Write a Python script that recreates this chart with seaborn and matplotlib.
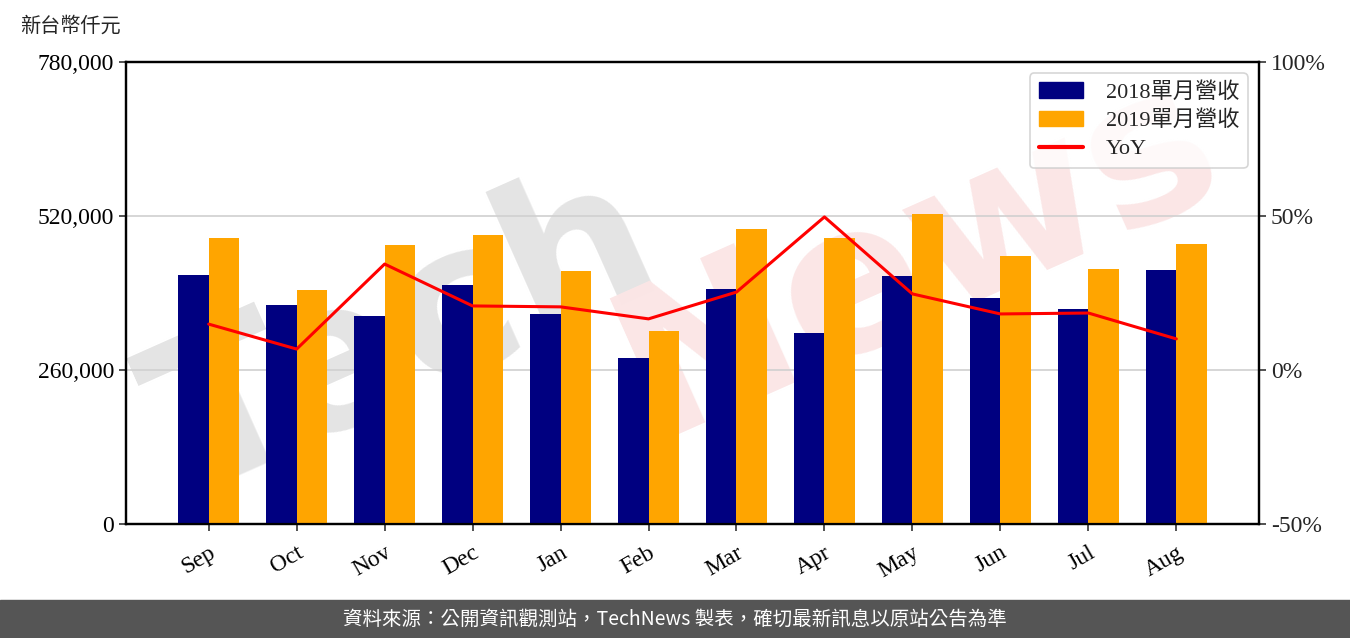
import numpy as np
import pandas as pd
import matplotlib
matplotlib.use("Agg")
import matplotlib.pyplot as plt
import seaborn as sns
from matplotlib.lines import Line2D
from matplotlib.patches import Patch
from matplotlib.ticker import FuncFormatter

months = ["Sep", "Oct", "Nov", "Dec", "Jan", "Feb", "Mar", "Apr", "May", "Jun", "Jul", "Aug"]
rev_2018 = [420400, 369700, 351200, 403500, 354500, 280300, 396800, 322500, 418700, 381600, 363000, 428800]
rev_2019 = [482900, 395100, 471000, 487900, 427100, 325800, 498100, 482900, 523400, 452500, 430500, 472700]
yoy = [14.9, 6.8, 34.4, 20.8, 20.5, 16.6, 25.3, 49.7, 24.7, 18.2, 18.5, 10.1]
series_names = ["2018單月營收", "2019單月營收", "YoY"]
left_ticks = [0, 260000, 520000, 780000]
right_ticks = [-50, 0, 50, 100]

sns.set_theme(style="white")
serif = ["Liberation Serif", "Noto Sans CJK TC", "DejaVu Sans"]
plt.rcParams["font.family"] = serif

df = pd.DataFrame({
    "month": months * 2,
    "value": rev_2018 + rev_2019,
    "series": [series_names[0]] * 12 + [series_names[1]] * 12,
})

fig = plt.figure(figsize=(13.5, 6.38), dpi=100)
ax = fig.add_axes([126 / 1350, 1 - 524 / 638, (1259 - 126) / 1350, (524 - 62) / 638])

# watermark (behind the axes)
fig.text(0.30, 0.47, "Tech", fontsize=150, color="#e4e4e4", rotation=24,
         ha="center", va="center", family=["DejaVu Sans"], fontweight="bold", zorder=-5)
fig.text(0.68, 0.60, "News", fontsize=150, color="#fbe6e6", rotation=24,
         ha="center", va="center", family=["DejaVu Sans"], fontweight="bold", zorder=-5)

sns.barplot(data=df, x="month", y="value", hue="series", palette=["#000080", "#FFA500"],
            width=0.7, ax=ax, legend=False, saturation=1, linewidth=0, zorder=3)
ax.set_xlim(-0.94, 11.94)
ax.set_ylim(0, 780000)
ax.set_yticks(left_ticks)
ax.yaxis.set_major_formatter(FuncFormatter(lambda v, p: f"{int(v):,}"))
ax.set_xlabel("")
ax.set_ylabel("")
ax.grid(axis="y", color="#d0d0d0", linewidth=1.2, zorder=0)
ax.set_axisbelow(True)
ax.patch.set_alpha(0)
for s in ax.spines.values():
    s.set_color("black")
    s.set_linewidth(1.6)
ax.tick_params(axis="both", which="both", length=5, width=1.2, color="#333333",
               labelsize=17, colors="black", left=True, bottom=True)
ax.tick_params(axis="x", pad=8)
for lbl in ax.get_xticklabels():
    lbl.set_rotation(30)
    lbl.set_ha("right")
    lbl.set_rotation_mode("anchor")

ax2 = ax.twinx()
sns.lineplot(x=np.arange(12), y=yoy, ax=ax2, color="red", linewidth=2.2, zorder=5)
ax2.set_ylim(-50, 100)
ax2.set_yticks(right_ticks)
ax2.yaxis.set_major_formatter(FuncFormatter(lambda v, p: f"{int(v)}%"))
ax2.tick_params(axis="y", length=5, width=1.2, color="#333333", labelsize=17, right=True)
ax2.grid(False)
ax2.set_ylabel("")
for s in ax2.spines.values():
    s.set_color("black")
    s.set_linewidth(1.6)

handles = [Patch(color="#000080"), Patch(color="#FFA500"), Line2D([], [], color="red", linewidth=3)]
leg = ax2.legend(handles, series_names, loc="upper right", fontsize=16, frameon=True,
                 fancybox=True, edgecolor="#cccccc", borderaxespad=0.5, handlelength=2.0,
                 handletextpad=1.0, labelspacing=0.35, borderpad=0.4)
leg.get_frame().set_linewidth(1.2)

fig.text(20 / 1350, 1 - 27 / 638, "新台幣仟元", fontsize=14.5, va="center", ha="left",
         family=serif)

# footer
fig.patches.append(plt.Rectangle((0, 0), 1, 38 / 638, transform=fig.transFigure,
                                 color="#555555", zorder=0))
fig.text(0.5, 19 / 638, "資料來源：公開資訊觀測站，TechNews 製表，確切最新訊息以原站公告為準",
         color="white", fontsize=14, ha="center", va="center",
         family=["Noto Sans CJK TC", "DejaVu Sans"])

fig.savefig("out.png", dpi=100)
